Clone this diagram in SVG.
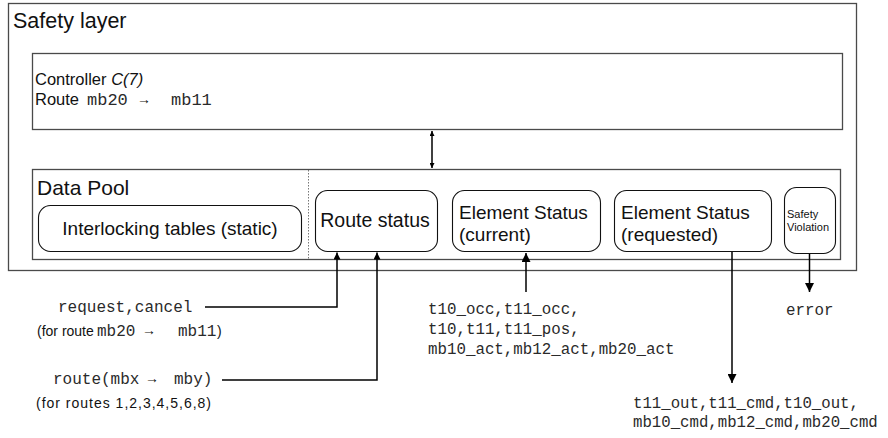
<svg xmlns="http://www.w3.org/2000/svg" width="888" height="438" viewBox="0 0 888 438">
  <defs>
    <marker id="head" viewBox="0 0 10 10" refX="10" refY="5" markerWidth="10" markerHeight="9" markerUnits="userSpaceOnUse" orient="auto-start-reverse">
      <path d="M0,0 L10,5 L0,10 z" fill="#000"/>
    </marker>
    <marker id="headS" viewBox="0 0 10 10" refX="10" refY="5" markerWidth="8" markerHeight="7" markerUnits="userSpaceOnUse" orient="auto-start-reverse">
      <path d="M0,0 L10,5 L0,10 z" fill="#000"/>
    </marker>
    <marker id="headXS" viewBox="0 0 10 10" refX="10" refY="5" markerWidth="6" markerHeight="5" markerUnits="userSpaceOnUse" orient="auto-start-reverse">
      <path d="M0,0 L10,5 L0,10 z" fill="#000"/>
    </marker>
  </defs>
  <style>
    .frame { fill: #fff; stroke: #4a4a4a; stroke-width: 1.3; }
    .node { fill: #fff; stroke: #111; stroke-width: 1.1; }
    .sans { font-family: "Liberation Sans", Arial, Helvetica, sans-serif; fill: #111; }
    .mono { font-family: "Liberation Mono", "Courier New", monospace; fill: #2a2a2a; }
    .wire { fill: none; stroke: #000; stroke-width: 1.5; }
  </style>

  <rect width="888" height="438" fill="#fff"/>

  <!-- Safety layer container -->
  <g id="safety-layer">
    <rect class="frame" x="8.5" y="3.5" width="848" height="267"/>
    <text class="sans" x="13" y="28" font-size="21.5">Safety layer</text>
  </g>

  <!-- Controller -->
  <g id="controller">
    <rect class="frame" x="32.5" y="53.5" width="810" height="76"/>
    <text class="sans" x="35" y="85" font-size="16.5">Controller <tspan font-style="italic">C(7)</tspan></text>
    <text class="sans" x="35" y="105" font-size="16.5">Route</text>
    <text class="mono" x="87" y="105" font-size="17">mb20</text>
    <text class="sans" x="137" y="104" font-size="14">→</text>
    <text class="mono" x="171" y="105" font-size="17">mb11</text>
  </g>

  <!-- Data pool container -->
  <g id="data-pool">
    <rect class="frame" x="32.5" y="169.5" width="808" height="90"/>
    <line x1="308.5" y1="170" x2="308.5" y2="259" stroke="#777" stroke-width="1" stroke-dasharray="1.5,1.5"/>
    <text class="sans" x="37" y="195" font-size="21">Data Pool</text>
  </g>

  <g id="interlocking-tables">
    <rect class="node" x="38.5" y="205.5" width="263" height="46" rx="12"/>
    <text class="sans" x="170" y="235" font-size="19" text-anchor="middle">Interlocking tables (static)</text>
  </g>

  <g id="route-status">
    <rect class="node" x="315.5" y="190.5" width="122" height="61" rx="12"/>
    <text class="sans" x="375" y="227" font-size="19.5" text-anchor="middle">Route status</text>
  </g>

  <g id="element-status-current">
    <rect class="node" x="452.5" y="190.5" width="148" height="61" rx="12"/>
    <text class="sans" x="459" y="219" font-size="19">Element Status</text>
    <text class="sans" x="459" y="241" font-size="19">(current)</text>
  </g>

  <g id="element-status-requested">
    <rect class="node" x="614.5" y="190.5" width="157" height="61" rx="12"/>
    <text class="sans" x="621" y="219" font-size="19">Element Status</text>
    <text class="sans" x="621" y="241" font-size="19">(requested)</text>
  </g>

  <g id="safety-violation">
    <rect class="node" x="784.5" y="187.5" width="51" height="66" rx="12"/>
    <text class="sans" x="787" y="218" font-size="11">Safety</text>
    <text class="sans" x="787" y="231" font-size="11">Violation</text>
  </g>

  <!-- Connectors -->
  <g id="connectors">
    <line class="wire" x1="432" y1="131" x2="432" y2="168" stroke-width="1.2" marker-start="url(#headXS)" marker-end="url(#headXS)"/>
    <path class="wire" d="M205,307 H337 V252.5" marker-end="url(#headS)"/>
    <path class="wire" d="M222,380 H377 V252.5" marker-end="url(#headS)"/>
    <path class="wire" d="M526,292 V253" marker-end="url(#head)"/>
    <path class="wire" d="M732,252 V383" marker-end="url(#head)"/>
    <path class="wire" d="M809.5,254 V292" marker-end="url(#head)"/>
  </g>

  <!-- External signals -->
  <g id="signal-labels">
    <text class="mono" x="58" y="312" font-size="16">request,cancel</text>
    <text class="sans" x="37" y="336" font-size="14">(for route</text>
    <text class="mono" x="97" y="336" font-size="16">mb20</text>
    <text class="sans" x="142" y="335" font-size="14">→</text>
    <text class="mono" x="178" y="336" font-size="16">mb11</text>
    <text class="sans" x="217" y="336" font-size="14">)</text>

    <text class="mono" x="53" y="384" font-size="16">route(mbx</text>
    <text class="sans" x="145" y="383" font-size="14">→</text>
    <text class="mono" x="174" y="384" font-size="16">mby)</text>
    <text class="sans" x="36" y="408" font-size="14" textLength="175" lengthAdjust="spacing">(for routes 1,2,3,4,5,6,8)</text>

    <text class="mono" x="428" y="314" font-size="15.8">t10_occ,t11_occ,</text>
    <text class="mono" x="428" y="334" font-size="15.8">t10,t11,t11_pos,</text>
    <text class="mono" x="428" y="354" font-size="15.8">mb10_act,mb12_act,mb20_act</text>

    <text class="mono" x="786" y="315" font-size="15.8">error</text>

    <text class="mono" x="633" y="408" font-size="15.7">t11_out,t11_cmd,t10_out,</text>
    <text class="mono" x="633" y="427" font-size="15.7">mb10_cmd,mb12_cmd,mb20_cmd</text>
  </g>
</svg>
